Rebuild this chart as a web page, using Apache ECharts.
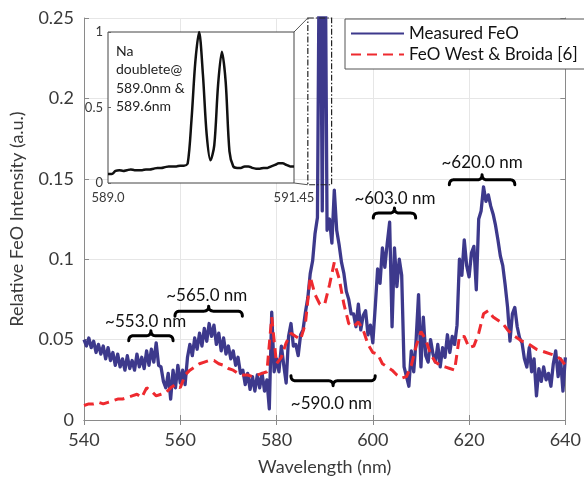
<!DOCTYPE html>
<html><head><meta charset="utf-8">
<script src="https://cdn.jsdelivr.net/npm/echarts@6/dist/echarts.min.js"></script>
<style>html,body{margin:0;padding:0;background:#fff}#c{width:584px;height:481px}</style>
</head><body><div id="c"></div>
<script>
// ---- data ----
const xTicks = [540, 560, 580, 600, 620, 640];
const yTicks = [0, 0.05, 0.1, 0.15, 0.2, 0.25];
const seriesNames = ['Measured FeO', 'FeO West & Broida [6]'];

// Measured FeO, 540..640 nm every 0.5 nm
const measuredStart = 540, measuredStep = 0.5;
const measuredFeO = [
 0.050,0.046,0.051,0.045,0.049,0.042,0.047,0.041,0.046,0.038,
 0.045,0.037,0.042,0.034,0.041,0.033,0.038,0.031,0.040,0.032,
 0.037,0.031,0.041,0.033,0.039,0.032,0.043,0.034,0.044,0.036,
 0.048,0.034,0.033,0.024,0.020,0.029,0.013,0.031,0.020,0.034,
 0.023,0.031,0.022,0.039,0.047,0.040,0.051,0.044,0.054,0.046,
 0.057,0.049,0.060,0.052,0.059,0.047,0.054,0.043,0.051,0.041,
 0.046,0.038,0.043,0.034,0.039,0.029,0.031,0.022,0.029,0.019,
 0.027,0.018,0.028,0.020,0.029,0.018,0.025,0.007,0.067,0.030,
 0.038,0.030,0.046,0.034,0.023,0.052,0.060,0.046,0.047,0.040,
 0.053,0.056,0.067,0.076,0.091,0.099,0.116,0.126,0.350,0.130,
 0.350,0.118,0.125,0.110,0.143,0.118,0.109,0.098,0.091,0.080,
 0.075,0.066,0.066,0.058,0.072,0.056,0.065,0.068,0.053,0.059,
 0.048,0.070,0.094,0.085,0.107,0.095,0.110,0.123,0.058,0.107,
 0.083,0.100,0.090,0.033,0.027,0.021,0.043,0.030,0.050,0.078,
 0.033,0.064,0.040,0.036,0.050,0.041,0.036,0.047,0.033,0.045,
 0.039,0.053,0.042,0.052,0.047,0.059,0.100,0.090,0.112,0.096,
 0.089,0.104,0.108,0.081,0.125,0.130,0.145,0.136,0.140,0.133,
 0.128,0.121,0.112,0.102,0.096,0.084,0.070,0.049,0.066,0.070,
 0.058,0.051,0.048,0.038,0.033,0.045,0.030,0.038,0.015,0.032,
 0.024,0.033,0.025,0.029,0.021,0.035,0.043,0.027,0.038,0.018,
 0.039
];

// FeO West & Broida, 540..640 nm every 1 nm
const westStart = 540, westStep = 1;
const westBroidaFeO = [
 0.009,0.010,0.010,0.011,0.010,0.011,0.012,0.013,0.013,0.014,
 0.015,0.016,0.014,0.020,0.018,0.015,0.016,0.017,0.020,0.022,
 0.020,0.028,0.031,0.033,0.035,0.036,0.037,0.037,0.035,0.034,
 0.032,0.031,0.029,0.028,0.028,0.027,0.028,0.029,0.030,0.064,
 0.035,0.039,0.048,0.054,0.052,0.050,0.060,0.089,0.078,0.072,
 0.072,0.084,0.098,0.088,0.072,0.060,0.058,0.061,0.056,0.047,
 0.042,0.041,0.035,0.033,0.031,0.028,0.026,0.027,0.034,0.046,
 0.055,0.050,0.041,0.036,0.034,0.033,0.032,0.031,0.052,0.052,
 0.045,0.046,0.054,0.066,0.068,0.064,0.062,0.060,0.056,0.053,
 0.051,0.049,0.048,0.046,0.044,0.043,0.042,0.041,0.040,0.038,
 0.034
];

// Inset: Na doublet, 589.00..591.45 nm every 0.05 nm (normalised)
const insetStart = 589, insetStep = 0.05;
const insetNa = [
 0.060,0.060,0.080,0.085,0.080,0.085,0.090,0.085,0.085,0.085,
 0.090,0.090,0.095,0.100,0.100,0.105,0.110,0.110,0.110,0.115,
 0.115,0.130,0.420,0.800,1.000,0.720,0.320,0.150,0.250,0.650,
 0.870,0.670,0.210,0.110,0.100,0.100,0.110,0.110,0.100,0.095,
 0.095,0.100,0.100,0.110,0.120,0.130,0.130,0.120,0.110,0.110
];
const insetXLabels = ['589.0', '591.45'];
const insetYTicks = [0, 0.5, 1];
const insetNote = 'Na\ndoublete@\n589.0nm &\n589.6nm';

// Annotations (nm / intensity)
const annotations = [
 {text:'~553.0 nm', x0:549.3, x1:558.5, y:0.0524, dir:1,  tx:552.8, ty:0.0610},
 {text:'~565.0 nm', x0:558.9, x1:572.9, y:0.0677, dir:1,  tx:565.5, ty:0.0774},
 {text:'~590.0 nm', x0:583.0, x1:600.5, y:0.0244, dir:-1, tx:591.4, ty:0.0104},
 {text:'~603.0 nm', x0:600.1, x1:608.9, y:0.1287, dir:1,  tx:604.6, ty:0.1378},
 {text:'~620.0 nm', x0:615.9, x1:629.5, y:0.1494, dir:1,  tx:622.7, ty:0.1604}
];
const zoomBox = {x0:586.5, x1:591.44, y0:0.1463, y1:0.25};

// ---- build ----
const FONT = 'Lato, "Open Sans", sans-serif';
const TXT = '#3a3a3a';
const measuredPairs = measuredFeO.map((v,i)=>[measuredStart + i*measuredStep, v]);
const westPairs = westBroidaFeO.map((v,i)=>[westStart + i*westStep, v]);
const insetPairs = insetNa.map((v,i)=>[+(insetStart + i*insetStep).toFixed(2), v]);

const chart = echarts.init(document.getElementById('c'), null, {renderer:'canvas'});
const frame = '#8a8a8a';
const mainGrid = {left:83, right:15, top:18, bottom:53, show:false};
const insetGrid = {left:108, top:32, width:186, height:151, show:true, backgroundColor:'#fff', borderColor:'#444', borderWidth:1, z:10};

chart.setOption({
  animation:false,
  grid:[mainGrid, insetGrid],
  legend:{
    data:seriesNames, left:345, top:19, orient:'vertical',
    itemWidth:53, itemHeight:12, itemGap:4, padding:[6,8,6,5],
    borderColor:'#555', borderWidth:1, backgroundColor:'#fff',
    itemStyle:{opacity:0},
    textStyle:{fontSize:17, color:'#111', fontFamily:FONT, lineHeight:17}, z:20
  },
  xAxis:[
    {gridIndex:0, type:'value', min:xTicks[0], max:xTicks[xTicks.length-1], interval:20,
     name:'Wavelength (nm)', nameLocation:'middle', nameGap:38,
     nameTextStyle:{fontSize:18, color:TXT, fontFamily:FONT},
     axisLine:{show:true, lineStyle:{color:frame}},
     axisTick:{inside:true, length:5, lineStyle:{color:frame}},
     axisLabel:{fontSize:18, color:TXT, fontFamily:FONT, margin:11},
     splitLine:{show:true, lineStyle:{color:'#e6e6e6'}}},
    {gridIndex:0, type:'value', position:'top', min:540, max:640, interval:20,
     axisLine:{show:true, lineStyle:{color:frame}},
     axisTick:{inside:true, length:5, lineStyle:{color:frame}},
     axisLabel:{show:false}, splitLine:{show:false}},
    {gridIndex:1, type:'value', min:insetStart, max:591.45, interval:2.45,
     axisLine:{show:false}, axisTick:{show:false},
     axisLabel:{fontSize:13, color:TXT, fontFamily:FONT, margin:8,
       formatter:(v)=> Math.abs(v-589)<1e-6 ? insetXLabels[0] : (Math.abs(v-591.45)<1e-6 ? insetXLabels[1] : '')},
     splitLine:{show:false}, z:11}
  ],
  yAxis:[
    {gridIndex:0, type:'value', min:yTicks[0], max:yTicks[yTicks.length-1], interval:0.05,
     name:'Relative FeO Intensity (a.u.)', nameLocation:'middle', nameGap:58,
     nameTextStyle:{fontSize:18, color:TXT, fontFamily:FONT},
     axisLine:{show:true, lineStyle:{color:frame}},
     axisTick:{inside:true, length:5, lineStyle:{color:frame}},
     axisLabel:{fontSize:18, color:TXT, fontFamily:FONT, margin:10},
     splitLine:{show:true, lineStyle:{color:'#e6e6e6'}}},
    {gridIndex:0, type:'value', position:'right', min:0, max:0.25, interval:0.05,
     axisLine:{show:true, lineStyle:{color:frame}},
     axisTick:{inside:true, length:5, lineStyle:{color:frame}},
     axisLabel:{show:false}, splitLine:{show:false}},
    {gridIndex:1, type:'value', min:0, max:1, interval:0.5,
     axisLine:{show:false},
     axisTick:{inside:true, length:3, lineStyle:{color:'#666'}},
     axisLabel:{fontSize:13, color:TXT, fontFamily:FONT, margin:5},
     splitLine:{show:false}, z:11}
  ],
  series:[
    {name:seriesNames[1], type:'line', xAxisIndex:0, yAxisIndex:0, data:westPairs,
     symbol:'none', showSymbol:false, clip:true, z:3,
     lineStyle:{color:'#ee2a2f', width:3, type:[10,6]}, itemStyle:{color:'#ee2a2f'}},
    {name:seriesNames[0], type:'line', xAxisIndex:0, yAxisIndex:0, data:measuredPairs,
     symbol:'none', showSymbol:false, clip:true, z:2,
     lineStyle:{color:'#3d398c', width:3.3, join:'round'}, itemStyle:{color:'#3d398c'}},
    {name:'Na', type:'line', xAxisIndex:2, yAxisIndex:2, data:insetPairs,
     symbol:'none', smooth:0.3, z:12,
     lineStyle:{color:'#111', width:2.5}}
  ]
});

// ---- annotations (positions derived from data coordinates) ----
const px = (x,y)=>chart.convertToPixel({xAxisIndex:0, yAxisIndex:0}, [x,y]);
const ipx = (x,y)=>chart.convertToPixel({xAxisIndex:2, yAxisIndex:2}, [x,y]);
function quad(p0, c, p1, out){
  for(let k=1;k<=8;k++){const t=k/8, u=1-t;
    out.push([u*u*p0[0]+2*u*t*c[0]+t*t*p1[0], u*u*p0[1]+2*u*t*c[1]+t*t*p1[1]]);}
}
const graphics = [];
annotations.forEach(a=>{
  const p0 = px(a.x0, a.y), p1 = px(a.x1, a.y);
  const x0 = p0[0], x1 = p1[0], y = p0[1], xm = (x0+x1)/2, h = 5*a.dir, r = 5;
  const pts = [[x0, y+h]];
  quad([x0,y+h],[x0,y],[x0+r,y],pts);
  pts.push([xm-r,y]);
  quad([xm-r,y],[xm,y],[xm,y-h],pts);
  quad([xm,y-h],[xm,y],[xm+r,y],pts);
  pts.push([x1-r,y]);
  quad([x1-r,y],[x1,y],[x1,y+h],pts);
  graphics.push({type:'polyline', shape:{points:pts}, style:{stroke:'#000', lineWidth:3, fill:null, lineJoin:'round', lineCap:'round'}, z:30});
  const t = px(a.tx, a.ty);
  graphics.push({type:'text', x:t[0], y:t[1], style:{text:a.text, fontSize:17, fontFamily:FONT, fill:'#111', align:'center', verticalAlign:'middle'}, z:30});
});
// dashed zoom box
const b0 = px(zoomBox.x0, zoomBox.y1), b1 = px(zoomBox.x1, zoomBox.y0);
graphics.push({type:'rect', shape:{x:b0[0], y:b0[1], width:b1[0]-b0[0], height:b1[1]-b0[1]},
  style:{fill:null, stroke:'#222', lineWidth:1.2, lineDash:[6,2,1.5,2]}, z:25});
// connectors to inset
const iTR = ipx(591.45, 1), iBR = ipx(591.45, 0);
graphics.push({type:'line', shape:{x1:b0[0], y1:b0[1], x2:iTR[0], y2:iTR[1]}, style:{stroke:'#555', lineWidth:1}, z:25});
graphics.push({type:'line', shape:{x1:b0[0], y1:b1[1], x2:iBR[0], y2:iBR[1]}, style:{stroke:'#555', lineWidth:1}, z:25});
// inset note
const n = ipx(589.105, 0.935);
graphics.push({type:'text', x:n[0], y:n[1], style:{text:insetNote, fontSize:14, lineHeight:18.5, fontFamily:FONT, fill:'#222', align:'left', verticalAlign:'top'}, z:30});
chart.setOption({graphic:graphics});
</script>
</body></html>
